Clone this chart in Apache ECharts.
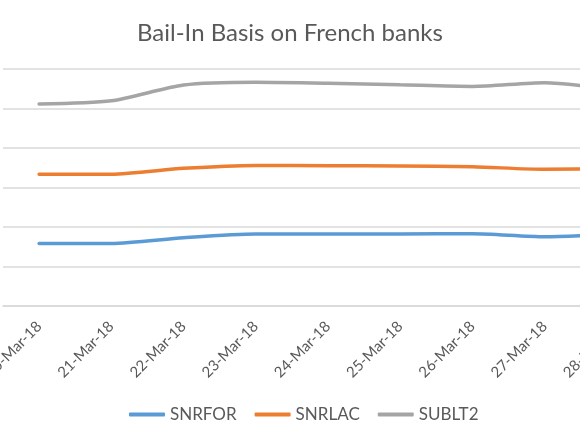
<!DOCTYPE html>
<html>
<head>
<meta charset="utf-8">
<title>Bail-In Basis on French banks</title>
<script src="https://cdn.jsdelivr.net/npm/echarts@6/dist/echarts.min.js"></script>
<style>
  html, body { margin: 0; padding: 0; background: #ffffff; }
  #grafico { width: 580px; height: 435px; }
</style>
</head>
<body>
<div id="grafico"></div>
<script>
// Fechas (eje de categorías) y valores
const fechas = ['20-Mar-18', '21-Mar-18', '22-Mar-18', '23-Mar-18', '24-Mar-18',
                '25-Mar-18', '26-Mar-18', '27-Mar-18', '28-Mar-18'];
const snrfor = [31.7, 31.7, 34.6, 36.5, 36.5, 36.5, 36.6, 35.1, 36.4];
const snrlac = [66.7, 66.7, 69.7, 71.2, 71.0, 70.9, 70.5, 69.2, 69.6];
const sublt2 = [102.3, 103.9, 111.9, 113.3, 112.8, 112.0, 111.2, 113.1, 109.2];

const colores = ['#5B9BD5', '#ED7D31', '#A5A5A5'];
const fuente = 'Lato, "Open Sans", sans-serif';

const grafico = echarts.init(document.getElementById('grafico'));

function serie(nombre, datos) {
    return {
        name: nombre,
        type: 'line',
        data: datos,
        smooth: 0.25,
        showSymbol: false,
        lineStyle: { width: 3.5, cap: 'round' },
        emphasis: { disabled: true }
    };
}

const opciones = {
    color: colores,
    animation: false,
    title: {
        text: 'Bail-In Basis on French banks',
        left: 132,
        top: 16,
        textStyle: { fontFamily: fuente, fontSize: 24, fontWeight: 'normal', color: '#595959' }
    },
    legend: {
        left: 124,
        top: 401,
        itemWidth: 36,
        itemHeight: 4,
        itemGap: 18,
        icon: 'roundRect',
        textStyle: { fontFamily: fuente, fontSize: 17, color: '#595959' }
    },
    // el área de trazado sigue más allá del borde derecho, como en el recorte original
    grid: {
        left: 3, top: 69, bottom: 129, width: 650,
        containLabel: false, outerBoundsMode: 'none'
    },
    xAxis: {
        type: 'category',
        data: fechas,
        boundaryGap: true,
        axisLine: { lineStyle: { color: '#D9D9D9', width: 1.5 } },
        axisTick: { length: 5, lineStyle: { color: '#D9D9D9', width: 1.5 } },
        axisLabel: {
            rotate: 45,
            margin: 18,
            interval: 0,
            hideOverlap: false,
            fontFamily: fuente,
            fontSize: 15,
            color: '#595959'
        }
    },
    yAxis: {
        type: 'value',
        min: 0,
        max: 120,
        interval: 20,
        axisLabel: { show: false },
        axisLine: { show: false },
        axisTick: { show: false },
        splitLine: { lineStyle: { color: '#D9D9D9', width: 1.5 } }
    },
    series: [
        serie('SNRFOR', snrfor),
        serie('SNRLAC', snrlac),
        serie('SUBLT2', sublt2)
    ]
};

grafico.setOption(opciones);
</script>
</body>
</html>
